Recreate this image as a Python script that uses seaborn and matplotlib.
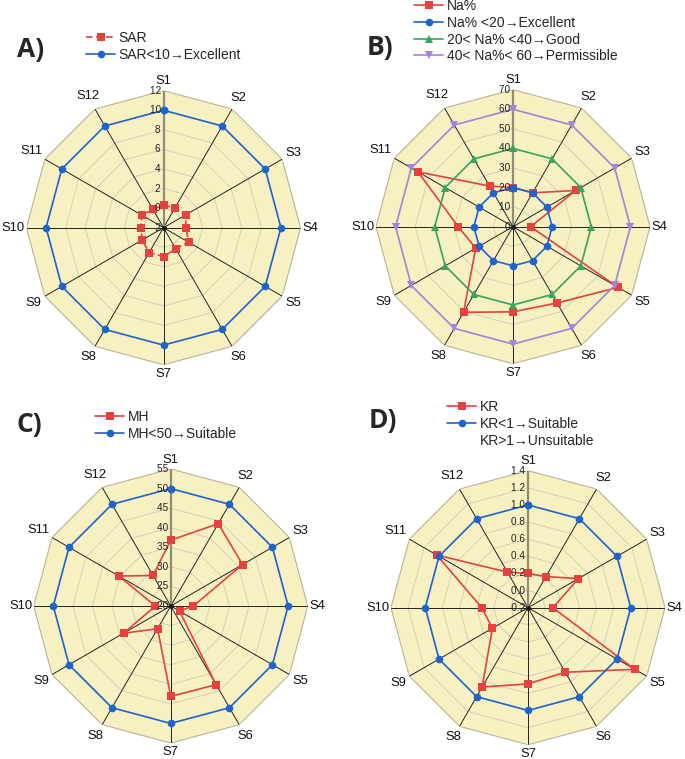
import numpy as np
import matplotlib
matplotlib.use("Agg")
import matplotlib.pyplot as plt
from matplotlib.lines import Line2D
from matplotlib.transforms import offset_copy
import seaborn as sns

# sampling sites and the four water-quality indices
sites = ["S1", "S2", "S3", "S4", "S5", "S6", "S7", "S8", "S9", "S10", "S11", "S12"]

sar = [0.3, 0.35, 0.6, 0.3, 0.95, 0.5, 0.95, 0.94, 0.5, 0.34, 0.55, 0.16]
sar_limit = [10] * 12

na_pct = [20, 20, 37, 9, 62, 45, 43.5, 50.5, 22, 28, 56, 24]
na_excellent = [20] * 12
na_good = [40] * 12
na_permissible = [60] * 12

mh = [36.8, 44.3, 41.2, 25.8, 22.6, 43.2, 43.1, 26.7, 33.9, 23.9, 35.3, 29.0]
mh_limit = [50] * 12

kr = [0.20, 0.22, 0.48, 0.09, 1.24, 0.67, 0.69, 0.87, 0.28, 0.34, 1.03, 0.28]
kr_limit = [1.0] * 12

sar_ticks = [-2, 0, 2, 4, 6, 8, 10, 12]
na_ticks = [0, 10, 20, 30, 40, 50, 60, 70]
mh_ticks = [20, 25, 30, 35, 40, 45, 50, 55]
kr_ticks = [-0.2, 0.0, 0.2, 0.4, 0.6, 0.8, 1.0, 1.2, 1.4]

RED = "#e6413f"
BLUE = "#1e64cc"
GREEN = "#3aa45c"
PURPLE = "#a583d9"
FILL = "#f7f1c2"
GRID = "#cdcbb8"

sns.set_theme(style="white")
plt.rcParams["font.family"] = ["Liberation Sans", "DejaVu Sans"]

fig = plt.figure(figsize=(6.85, 7.59), dpi=100)
renderer = fig.canvas.get_renderer()

theta = np.linspace(0, 2 * np.pi, len(sites), endpoint=False)
theta_closed = np.append(theta, theta[0] + 2 * np.pi)


def close(vals):
    return np.append(vals, vals[0])


def site_labels(ax, rmax):
    # put each site name just outside its polygon vertex
    for th, name in zip(theta, sites):
        sx, sy = np.sin(th), np.cos(th)
        t = ax.text(th, rmax, name, ha="center", va="center", fontsize=9.4,
                    color="#111111")
        bb = t.get_window_extent(renderer)
        w, h = bb.width, bb.height * 0.72
        off = 1.5 * abs(sx) + 5 * abs(sy) + w / 2 * abs(sx) + h / 2 * abs(sy)
        t.set_transform(offset_copy(ax.transData, fig, x=off * sx, y=off * sy,
                                    units="dots"))


def radar_frame(ax, ticks, fmt):
    rmin, rmax = ticks[0], ticks[-1]
    ax.set_theta_zero_location("N")
    ax.set_theta_direction(-1)
    ax.set_ylim(rmin, rmax)
    ax.spines["polar"].set_visible(False)
    ax.patch.set_alpha(0)
    ax.grid(False)
    ax.set_yticks([])
    ax.set_xticks([])

    ax.fill(theta_closed, [rmax] * len(theta_closed), color=FILL, zorder=0)
    ax.plot(theta_closed, [rmax] * len(theta_closed), color="#b9b6a0", lw=0.8, zorder=1)
    for t in ticks[1:-1]:
        ax.plot(theta_closed, [t] * len(theta_closed), color=GRID, lw=0.6, zorder=1)
    for th in theta[1:]:
        ax.plot([th, th], [rmin, rmax], color="#222222", lw=0.7, zorder=2)
    ax.plot([0, 0], [rmin, rmax], color="#8f8d72", lw=1.6, zorder=2)
    ax.plot([0], [rmin], "o", color="k", ms=2.5, zorder=6)

    for t in ticks:
        ax.text(0, t, fmt.format(t) + " ", ha="right", va="center", fontsize=7.2,
                color="#222222", zorder=7)

    site_labels(ax, rmax)
    ax.set_xlabel("")
    ax.set_ylabel("")


def series(ax, vals, color, marker, label, ls="-"):
    sns.lineplot(x=theta_closed, y=close(vals), ax=ax, sort=False, estimator=None,
                 color=color, marker=marker, markersize=5.5, markeredgewidth=0,
                 markeredgecolor=color, linewidth=1.2, linestyle=ls, label=label,
                 zorder=4)


def legend(ax, x, y, extra=None):
    handles, labels = ax.get_legend_handles_labels()
    if extra:
        handles.append(Line2D([], [], linestyle="none"))
        labels.append(extra)
    ax.legend(handles, labels, loc="upper left", bbox_to_anchor=(x / 685, 1 - y / 759),
              bbox_transform=fig.transFigure, frameon=False, fontsize=10,
              handlelength=2.1, handletextpad=0.25, labelspacing=0.2,
              borderpad=0, borderaxespad=0)


R = 274
axA = fig.add_axes([26.5 / 685, 1 - 364.7 / 759, R / 685, R / 759], projection="polar")
axB = fig.add_axes([376 / 685, 1 - 363.7 / 759, R / 685, R / 759], projection="polar")
axC = fig.add_axes([33.7 / 685, 1 - 743 / 759, R / 685, R / 759], projection="polar")
axD = fig.add_axes([391 / 685, 1 - 744.7 / 759, R / 685, R / 759], projection="polar")

# A) SAR
radar_frame(axA, sar_ticks, "{:d}")
series(axA, sar, RED, "s", "SAR", ls=(0, (4, 2)))
series(axA, sar_limit, BLUE, "o", "SAR<10\u2192Excellent")
legend(axA, 86, 31)

# B) Na%
radar_frame(axB, na_ticks, "{:d}")
series(axB, na_pct, RED, "s", "Na%")
series(axB, na_excellent, BLUE, "o", "Na% <20\u2192Excellent")
series(axB, na_good, GREEN, "^", "20< Na% <40\u2192Good")
series(axB, na_permissible, PURPLE, "v", "40< Na%< 60\u2192Permissible")
legend(axB, 414, -1)

# C) MH
radar_frame(axC, mh_ticks, "{:d}")
series(axC, mh, RED, "s", "MH")
series(axC, mh_limit, BLUE, "o", "MH<50\u2192Suitable")
legend(axC, 95, 410)

# D) KR
radar_frame(axD, kr_ticks, "{:.1f}")
series(axD, kr, RED, "s", "KR")
series(axD, kr_limit, BLUE, "o", "KR<1\u2192Suitable")
legend(axD, 447, 400, extra="KR>1\u2192Unsuitable")

for letter, x, y in [("A)", 17, 57), ("B)", 367, 55), ("C)", 17, 432), ("D)", 369, 428)]:
    fig.text(x / 685, 1 - y / 759, letter, fontsize=19, fontweight="bold",
             family=["Open Sans", "DejaVu Sans"], va="baseline", ha="left")

fig.savefig("out.png", dpi=100)
